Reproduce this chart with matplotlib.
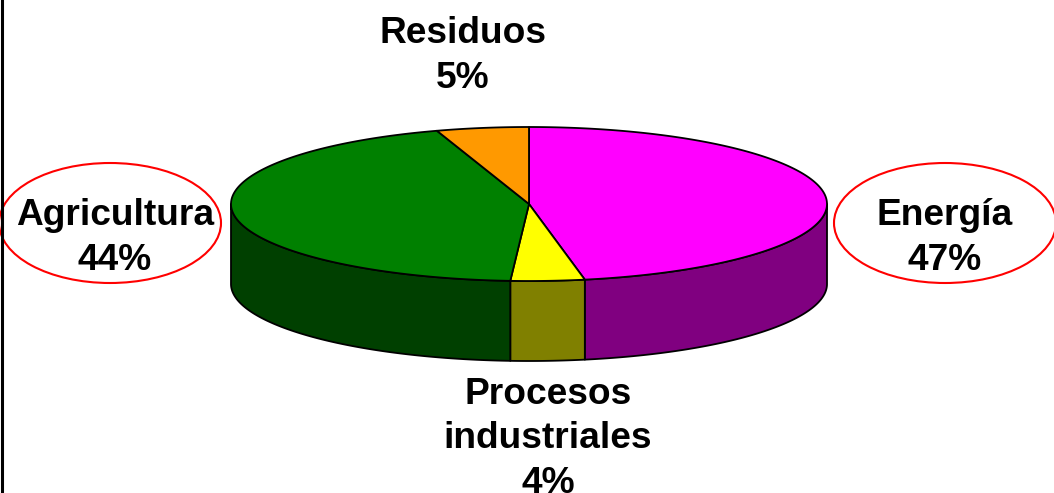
import numpy as np
import matplotlib
matplotlib.use("Agg")
import matplotlib.pyplot as plt
from matplotlib.patches import Polygon, Ellipse

# ---- data ----
categories = ["Energía", "Procesos\nindustriales", "Agricultura", "Residuos"]
values = [47, 4, 44, 5]
top_colors = ["#FF00FF", "#FFFF00", "#008000", "#FF9900"]
side_colors = ["#800080", "#808000", "#004000", "#804C00"]

# ---- layout ----
W, H = 1054, 493
cx, cy = 529, 204          # centre of top face (pixels)
a, b = 298, 77             # semi axes of top face
depth = 80                 # thickness of the pie

label_pos = [(945, 238), (548, 439), (115, 238), (463, 56)]
circled = [True, False, True, False]

plt.rcParams['font.family'] = ['Liberation Sans', 'DejaVu Sans']

fig = plt.figure(figsize=(W / 100, H / 100), dpi=100)
ax = fig.add_axes([0, 0, 1, 1])
ax.set_xlim(0, W)
ax.set_ylim(H, 0)
ax.axis('off')


def rim(t1, t2, dy=0.0, n=200):
    t = np.linspace(np.radians(t1), np.radians(t2), n)
    return np.column_stack([cx + a * np.sin(t), cy - b * np.cos(t) + dy])


total = float(sum(values))
bounds = np.concatenate([[0], np.cumsum(values)]) / total * 360.0

# side walls (front half: 90..270 deg, clockwise from top)
for i in range(len(values)):
    s, e = max(bounds[i], 90), min(bounds[i + 1], 270)
    if e <= s:
        continue
    top = rim(s, e)
    bot = rim(s, e, depth)[::-1]
    ax.add_patch(Polygon(np.vstack([top, bot]), closed=True,
                         facecolor=side_colors[i], edgecolor='black',
                         linewidth=1.3, joinstyle='round', zorder=2))

# top face
for i in range(len(values)):
    pts = np.vstack([[cx, cy], rim(bounds[i], bounds[i + 1])])
    ax.add_patch(Polygon(pts, closed=True, facecolor=top_colors[i],
                         edgecolor='black', linewidth=1.3,
                         joinstyle='round', zorder=3))

# labels
for i, cat in enumerate(categories):
    x, y = label_pos[i]
    ax.text(x, y, f"{cat}\n{values[i]}%", ha='center', va='center',
            fontsize=26.7, fontweight='bold', color='black',
            linespacing=1.34, zorder=5)
    if circled[i]:
        ax.add_patch(Ellipse((x - 5 if x < cx else x, 223), 222, 120,
                             facecolor='none', edgecolor='#FF0000',
                             linewidth=1.5, zorder=4))

# left border line
ax.plot([2, 2], [0, H], color='black', linewidth=2.2, zorder=6)

fig.savefig("out.png", dpi=100)
